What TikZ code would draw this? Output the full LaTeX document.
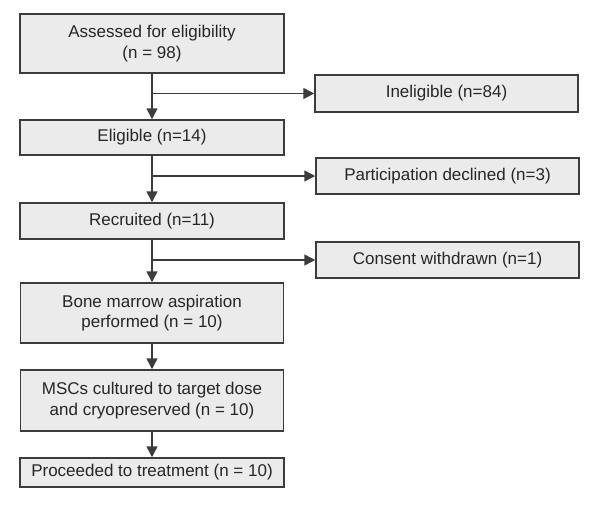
\documentclass[tikz,border=0pt]{standalone}
\usepackage{fontspec}
\setmainfont{Liberation Sans}
\usetikzlibrary{arrows.meta}
\definecolor{boxfill}{HTML}{EBEBEB}
\definecolor{boxline}{HTML}{3C3C3C}
\begin{document}
\begin{tikzpicture}[x=1pt,y=-1pt,
  box/.style={draw=boxline,fill=boxfill,line width=1.5pt,align=center,inner sep=0pt,
    font=\fontsize{17}{20.5}\selectfont,text=black!85},
  conn/.style={draw=boxline,line width=1.5pt},
  arr/.style={conn,-{Triangle[length=11pt,width=11pt]}}]
\useasboundingbox (0,0) rectangle (600,507);
\node[box,minimum width=264pt,minimum height=59pt] (a) at (152,43.5) {Assessed for eligibility\\(n = 98)};
\node[box,minimum width=264pt,minimum height=35pt] (b) at (152,137.5) {Eligible (n=14)};
\node[box,minimum width=264pt,minimum height=36pt] (c) at (152,221) {Recruited (n=11)};
\node[box,minimum width=263pt,minimum height=60pt] (d) at (152,313) {Bone marrow aspiration\\performed (n = 10)};
\node[box,minimum width=263pt,minimum height=61pt] (e) at (152,400.5) {MSCs cultured to target dose\\and cryopreserved (n = 10)};
\node[box,minimum width=264pt,minimum height=29pt] (f) at (152,472.5) {Proceeded to treatment (n = 10)};
\node[box,minimum width=263pt,minimum height=37pt] (x1) at (446.5,93.5) {Ineligible (n=84)};
\node[box,minimum width=263pt,minimum height=36pt] (x2) at (447.5,176) {Participation declined (n=3)};
\node[box,minimum width=263pt,minimum height=36pt] (x3) at (447.5,260) {Consent withdrawn (n=1)};
\coordinate (j1) at (a.south |- x1.west);
\coordinate (j2) at (b.south |- x2.west);
\coordinate (j3) at (c.south |- x3.west);
\draw[arr] (a.south) -- (b.north);
\draw[arr] (b.south) -- (c.north);
\draw[arr] (c.south) -- (d.north);
\draw[arr] (d.south) -- (e.north);
\draw[arr] (e.south) -- (f.north);
\draw[arr] (j1) -- (x1.west);
\draw[arr] (j2) -- (x2.west);
\draw[arr] (j3) -- (x3.west);
\end{tikzpicture}
\end{document}
